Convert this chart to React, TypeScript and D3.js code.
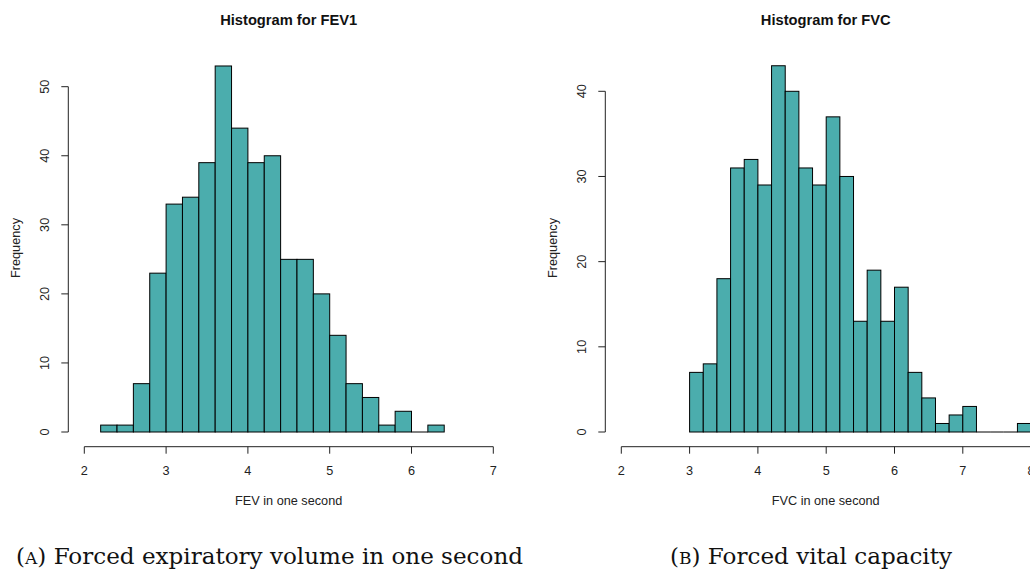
import React, { useEffect, useRef } from 'react';
import * as d3 from 'd3';

// FEV1 histogram: bin starts (width 0.2) and counts
const fevBinStarts = [2.2, 2.4, 2.6, 2.8, 3.0, 3.2, 3.4, 3.6, 3.8, 4.0, 4.2, 4.4, 4.6, 4.8, 5.0, 5.2, 5.4, 5.6, 5.8, 6.0, 6.2];
const fevCounts = [1, 1, 7, 23, 33, 34, 39, 53, 44, 39, 40, 25, 25, 20, 14, 7, 5, 1, 3, 0, 1];
const fevYTicks = [0, 10, 20, 30, 40, 50];
const fevXTicks = [2, 3, 4, 5, 6, 7];

// FVC histogram
const fvcBinStarts = [3.0, 3.2, 3.4, 3.6, 3.8, 4.0, 4.2, 4.4, 4.6, 4.8, 5.0, 5.2, 5.4, 5.6, 5.8, 6.0, 6.2, 6.4, 6.6, 6.8, 7.0, 7.2, 7.4, 7.6, 7.8];
const fvcCounts = [7, 8, 18, 31, 32, 29, 43, 40, 31, 29, 37, 30, 13, 19, 13, 17, 7, 4, 1, 2, 3, 0, 0, 0, 1];
const fvcYTicks = [0, 10, 20, 30, 40];
const fvcXTicks = [2, 3, 4, 5, 6, 7, 8];

const binWidth = 0.2;
const fill = '#4badad';
const fs = 12.7;

function drawHist(svg, opts) {
  const { starts, counts, yTicks, xTicks, xRange, yRange, axisX, title, xTitle, titleX, yLabelX, yTickLabelX } = opts;
  const x = d3.scaleLinear().domain([xTicks[0], xTicks[xTicks.length - 1]]).range(xRange);
  const y = d3.scaleLinear().domain([0, yTicks[yTicks.length - 1]]).range(yRange);
  const g = svg.append('g').style('font-family', 'Liberation Sans, Arial, sans-serif');
  const bins = starts.map((s, i) => ({ s, c: counts[i] }));

  // bars
  g.selectAll('rect.bar')
    .data(bins.filter(d => d.c > 0))
    .enter()
    .append('rect')
    .attr('class', 'bar')
    .attr('x', d => x(d.s))
    .attr('width', d => x(d.s + binWidth) - x(d.s))
    .attr('y', d => y(d.c))
    .attr('height', d => y(0) - y(d.c))
    .attr('fill', fill)
    .attr('stroke', '#000')
    .attr('stroke-width', 1);

  // empty bins collapse to a line on zero
  g.selectAll('line.empty')
    .data(bins.filter(d => d.c === 0))
    .enter()
    .append('line')
    .attr('class', 'empty')
    .attr('x1', d => x(d.s))
    .attr('x2', d => x(d.s + binWidth))
    .attr('y1', y(0))
    .attr('y2', y(0))
    .attr('stroke', '#000');

  // y axis
  const ya = g.append('g').attr('transform', `translate(${axisX},0)`);
  ya.append('line').attr('x1', 0).attr('x2', 0).attr('y1', y(yTicks[0])).attr('y2', y(yTicks[yTicks.length - 1])).attr('stroke', '#222');
  yTicks.forEach(t => {
    ya.append('line').attr('x1', -7).attr('x2', 0).attr('y1', y(t)).attr('y2', y(t)).attr('stroke', '#222');
    g.append('text')
      .attr('transform', `translate(${yTickLabelX},${y(t)}) rotate(-90)`)
      .attr('text-anchor', 'middle')
      .attr('dominant-baseline', 'central')
      .attr('font-size', fs)
      .attr('fill', '#222')
      .text(t);
  });

  // x axis
  const axisY = 446.7;
  const xa = g.append('g').attr('transform', `translate(0,${axisY})`);
  xa.append('line').attr('x1', x(xTicks[0])).attr('x2', x(xTicks[xTicks.length - 1])).attr('stroke', '#222');
  xTicks.forEach(t => {
    xa.append('line').attr('x1', x(t)).attr('x2', x(t)).attr('y1', 0).attr('y2', 7).attr('stroke', '#222');
    xa.append('text')
      .attr('x', x(t))
      .attr('y', 24)
      .attr('text-anchor', 'middle')
      .attr('dominant-baseline', 'central')
      .attr('font-size', fs)
      .attr('fill', '#222')
      .text(t);
  });

  g.append('text')
    .attr('x', titleX).attr('y', 501)
    .attr('text-anchor', 'middle').attr('dominant-baseline', 'central')
    .attr('font-size', fs).attr('fill', '#222')
    .text(xTitle);

  g.append('text')
    .attr('transform', `translate(${yLabelX},248) rotate(-90)`)
    .attr('text-anchor', 'middle').attr('dominant-baseline', 'central')
    .attr('font-size', fs).attr('fill', '#222')
    .text('Frequency');

  g.append('text')
    .attr('x', titleX).attr('y', 20)
    .attr('text-anchor', 'middle').attr('dominant-baseline', 'central')
    .attr('font-size', 14.7).attr('font-weight', 'bold').attr('fill', '#111')
    .text(title);
}

export default function App() {
  const ref = useRef(null);

  useEffect(() => {
    const svg = d3.select(ref.current);
    svg.selectAll('*').remove();

    drawHist(svg, {
      starts: fevBinStarts, counts: fevCounts, yTicks: fevYTicks, xTicks: fevXTicks,
      xRange: [84.3, 493.3], yRange: [432, 86.7], axisX: 68.3,
      title: 'Histogram for FEV1', xTitle: 'FEV in one second',
      titleX: 288.7, yLabelX: 15.5, yTickLabelX: 45,
    });

    drawHist(svg, {
      starts: fvcBinStarts, counts: fvcCounts, yTicks: fvcYTicks, xTicks: fvcXTicks,
      xRange: [621.3, 621.3 + 6 * 68.3], yRange: [432, 91.3], axisX: 605.3,
      title: 'Histogram for FVC', xTitle: 'FVC in one second',
      titleX: 825.7, yLabelX: 552.5, yTickLabelX: 582,
    });

    // sub-figure captions
    const cap = svg.append('g').style('font-family', 'DejaVu Serif, serif').attr('fill', '#111');
    const a = cap.append('text').attr('x', 16).attr('y', 564).attr('font-size', 23)
      .attr('textLength', 507).attr('lengthAdjust', 'spacingAndGlyphs');
    a.append('tspan').text('(');
    a.append('tspan').attr('font-size', 17).text('A');
    a.append('tspan').text(') Forced expiratory volume in one second');

    const b = cap.append('text').attr('x', 670).attr('y', 564).attr('font-size', 23)
      .attr('textLength', 282).attr('lengthAdjust', 'spacingAndGlyphs');
    b.append('tspan').text('(');
    b.append('tspan').attr('font-size', 17).text('B');
    b.append('tspan').text(') Forced vital capacity');
  }, []);

  return (
    <svg ref={ref} width={1030} height={570}
      style={{ position: 'absolute', left: 0, top: 0, background: '#fff' }} />
  );
}
